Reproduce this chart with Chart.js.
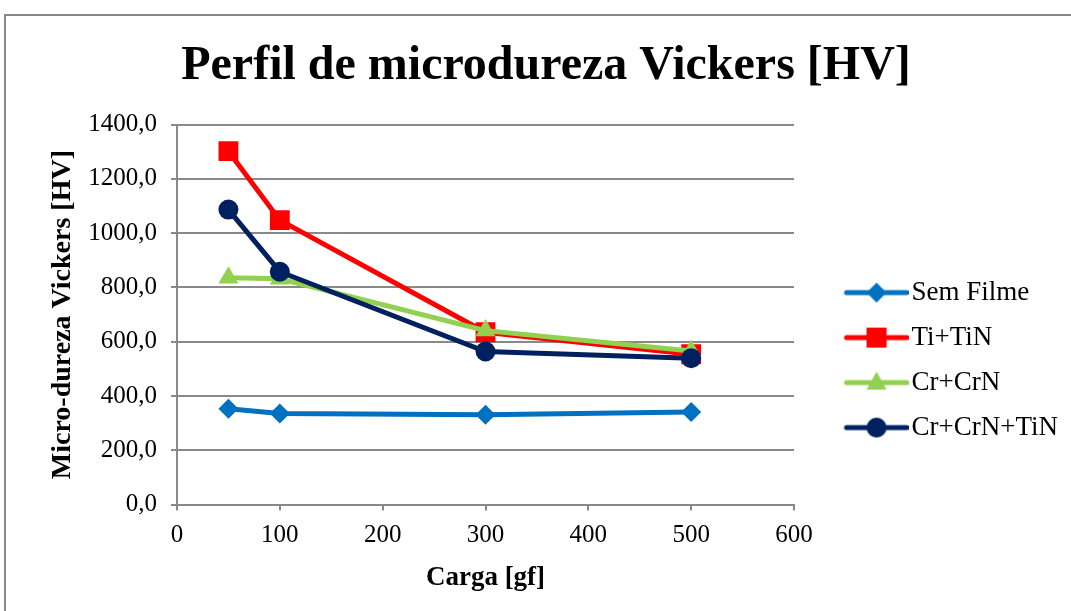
<!DOCTYPE html>
<html>
<head>
<meta charset="utf-8">
<script src="https://cdn.jsdelivr.net/npm/chart.js@4/dist/chart.umd.min.js"></script>
<style>
  html, body { margin: 0; padding: 0; background: #fff; overflow: hidden; }
  #wrap { position: relative; width: 1071px; height: 611px; }
  #frame { position: absolute; left: 4px; top: 14px; width: 1100px; height: 700px; border: 2px solid #898989; pointer-events: none; }
</style>
</head>
<body>
<div id="wrap">
  <canvas id="chart" width="1071" height="611"></canvas>
  <div id="frame"></div>
</div>
<script>
// dados
const cargas = [50, 100, 300, 500];
const seriesNames = ['Sem Filme', 'Ti+TiN', 'Cr+CrN', 'Cr+CrN+TiN'];
const semFilme = [353, 336, 331, 341];
const tiTiN = [1302, 1048, 635, 554];
const crCrN = [836, 832, 641, 566];
const crCrNTiN = [1087, 858, 564, 539];
const xTicks = [0, 100, 200, 300, 400, 500, 600];
const yTicks = [0, 200, 400, 600, 800, 1000, 1200, 1400];

const colors = ['#0070C0', '#FF0000', '#92D050', '#002060'];
const markers = ['rectRot', 'rect', 'triangle', 'circle'];
const radii = [10, 14, 11.5, 10];
const serif = '"Liberation Serif", "Times New Roman", serif';

function pts(vals){ return cargas.map((c, i) => ({ x: c, y: vals[i] })); }
function fmt(v){ return v.toFixed(1).replace('.', ','); }

// icone da legenda: linha + marcador (parte esquerda vazia para afastar do gráfico)
const ICON_W = 107, LINE_A = 45, LINE_B = 105;
function legendIcon(color, style){
    const c = document.createElement('canvas');
    c.width = ICON_W; c.height = 26;
    const g = c.getContext('2d');
    g.strokeStyle = color; g.fillStyle = color;
    g.lineWidth = 5; g.lineCap = 'round';
    g.beginPath(); g.moveTo(LINE_A, 13); g.lineTo(LINE_B, 13); g.stroke();
    const cx = (LINE_A + LINE_B) / 2, cy = 13;
    g.beginPath();
    if (style === 'rectRot'){ g.moveTo(cx, cy-10); g.lineTo(cx+10, cy); g.lineTo(cx, cy+10); g.lineTo(cx-10, cy); }
    else if (style === 'rect'){ g.rect(cx-10, cy-10, 20, 20); }
    else if (style === 'triangle'){ g.moveTo(cx, cy-11); g.lineTo(cx+10, cy+7); g.lineTo(cx-10, cy+7); }
    else { g.arc(cx, cy, 10, 0, Math.PI*2); }
    g.closePath(); g.fill();
    return c;
}

const allVals = [semFilme, tiTiN, crCrN, crCrNTiN];
const datasets = allVals.map((vals, i) => ({
    label: seriesNames[i],
    data: pts(vals),
    borderColor: colors[i],
    backgroundColor: colors[i],
    borderWidth: 5,
    pointStyle: markers[i],
    pointRadius: radii[i],
    pointHoverRadius: radii[i],
    pointBorderWidth: 0,
    order: 4 - i,
    tension: 0
}));

new Chart(document.getElementById('chart'), {
    type: 'line',
    data: { datasets },
    options: {
        responsive: false,
        animation: false,
        layout: { padding: { top: 38, left: 24, right: 3, bottom: 13 } },
        plugins: {
            title: {
                display: true,
                text: 'Perfil de microdureza Vickers [HV]',
                color: '#000',
                font: { family: serif, size: 48, weight: 'bold' },
                padding: { top: 0, bottom: 29 }
            },
            legend: {
                position: 'right',
                maxWidth: 320,
                title: { display: true, text: ' ', font: { size: 1 }, padding: { top: 83, bottom: 0 } },
                labels: {
                    usePointStyle: true,
                    pointStyleWidth: 86,
                    padding: 18,
                    color: '#000',
                    font: { family: serif, size: 27 },
                    generateLabels: (chart) => chart.data.datasets.map((d, i) => ({
                        text: d.label,
                        pointStyle: legendIcon(colors[i], markers[i]),
                        fillStyle: colors[i],
                        strokeStyle: colors[i],
                        lineWidth: 0,
                        datasetIndex: i,
                        fontColor: '#000'
                    }))
                }
            },
            tooltip: { enabled: false }
        },
        scales: {
            x: {
                type: 'linear',
                min: 0, max: 600,
                afterBuildTicks: (s) => { s.ticks = xTicks.map(v => ({ value: v })); },
                ticks: { color: '#000', font: { family: serif, size: 25 }, padding: 10 },
                grid: { display: true, drawOnChartArea: false, drawTicks: true, tickLength: 6, color: '#898989', lineWidth: 2 },
                border: { color: '#898989', width: 2 },
                title: { display: true, text: 'Carga [gf]', color: '#000', font: { family: serif, size: 27, weight: 'bold' }, padding: { top: 1, bottom: 4 } }
            },
            y: {
                min: 0, max: 1400,
                afterBuildTicks: (s) => { s.ticks = yTicks.map(v => ({ value: v })); },
                afterFit: (s) => { s.width = 153; },
                ticks: { color: '#000', font: { family: serif, size: 25 }, padding: 14, callback: (v) => fmt(v) },
                grid: { color: '#898989', lineWidth: 2, drawTicks: true, tickLength: 6 },
                border: { color: '#898989', width: 2 },
                title: { display: true, text: 'Micro-dureza Vickers [HV]', color: '#000', font: { family: serif, size: 28, weight: 'bold' }, padding: { top: 22, bottom: 3 } }
            }
        }
    }
});
</script>
</body>
</html>
